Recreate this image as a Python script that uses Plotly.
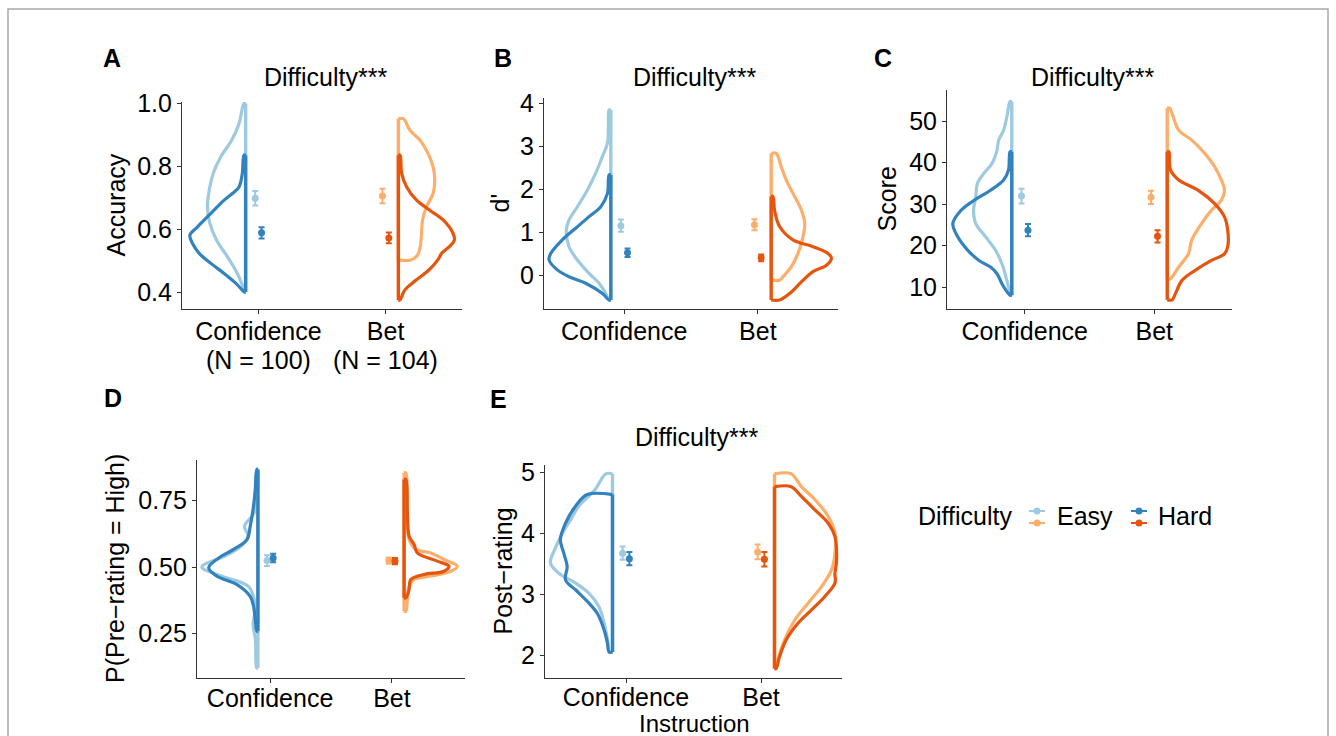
import plotly.graph_objects as go

# ---------------- data ----------------
categories = ["Confidence", "Bet"]
difficulty = ["Easy", "Hard"]

# half-violin outlines: y values and half-widths (x units)
A_conf_easy_y = [0.999, 0.935, 0.883, 0.830, 0.777, 0.724, 0.672, 0.618, 0.565, 0.512, 0.459, 0.417, 0.400]
A_conf_easy_w = [0.013, 0.052, 0.109, 0.195, 0.255, 0.286, 0.300, 0.281, 0.229, 0.143, 0.065, 0.021, 0.005]
A_conf_hard_y = [0.835, 0.777, 0.734, 0.713, 0.692, 0.650, 0.607, 0.581, 0.554, 0.523, 0.491, 0.459, 0.428, 0.406, 0.400]
A_conf_hard_w = [0.013, 0.026, 0.052, 0.104, 0.169, 0.273, 0.378, 0.438, 0.417, 0.365, 0.273, 0.169, 0.078, 0.026, 0.010]
A_bet_easy_y = [0.951, 0.914, 0.883, 0.840, 0.798, 0.756, 0.713, 0.671, 0.629, 0.586, 0.544, 0.517, 0.502]
A_bet_easy_w = [0.039, 0.091, 0.169, 0.234, 0.273, 0.286, 0.273, 0.221, 0.190, 0.182, 0.172, 0.150, 0.100]
A_bet_hard_y = [0.835, 0.777, 0.734, 0.692, 0.660, 0.629, 0.586, 0.565, 0.544, 0.523, 0.502, 0.470, 0.438, 0.406, 0.375]
A_bet_hard_w = [0.013, 0.026, 0.065, 0.143, 0.247, 0.352, 0.430, 0.440, 0.400, 0.340, 0.310, 0.240, 0.140, 0.050, 0.013]

B_conf_easy_y = [3.84, 3.46, 3.07, 2.76, 2.37, 1.98, 1.59, 1.28, 1.05, 0.66, 0.35, 0.04, -0.19, -0.43, -0.58]
B_conf_easy_w = [0.013, 0.018, 0.025, 0.063, 0.113, 0.175, 0.250, 0.313, 0.333, 0.313, 0.250, 0.163, 0.088, 0.038, 0.013]
B_conf_hard_y = [2.33, 1.90, 1.59, 1.36, 1.09, 0.82, 0.50, 0.35, 0.12, -0.04, -0.19, -0.43, -0.58]
B_conf_hard_w = [0.013, 0.025, 0.075, 0.163, 0.263, 0.363, 0.450, 0.462, 0.400, 0.313, 0.188, 0.063, 0.013]
B_bet_easy_y = [2.83, 2.52, 2.21, 1.90, 1.51, 1.20, 0.89, 0.50, 0.19, -0.04, -0.12]
B_bet_easy_w = [0.038, 0.075, 0.113, 0.163, 0.226, 0.251, 0.238, 0.200, 0.150, 0.088, 0.063]
B_bet_hard_y = [1.83, 1.51, 1.13, 0.82, 0.66, 0.50, 0.39, 0.23, 0.08, -0.16, -0.43, -0.58]
B_bet_hard_w = [0.013, 0.025, 0.063, 0.163, 0.313, 0.426, 0.451, 0.414, 0.313, 0.226, 0.138, 0.063]

C_conf_easy_y = [54.7, 51.0, 47.8, 45.4, 43.0, 39.8, 37.4, 35.0, 31.7, 28.5, 25.3, 22.1, 18.9, 15.6, 11.6, 8.4, 8.0]
C_conf_easy_w = [0.013, 0.038, 0.063, 0.101, 0.114, 0.152, 0.215, 0.265, 0.278, 0.295, 0.278, 0.202, 0.126, 0.076, 0.038, 0.013, 0.010]
C_conf_hard_y = [42.6, 38.2, 35.8, 33.3, 30.9, 28.5, 25.3, 22.1, 18.9, 16.4, 14.8, 13.2, 10.8, 8.4, 8.0]
C_conf_hard_w = [0.013, 0.025, 0.063, 0.164, 0.290, 0.391, 0.455, 0.417, 0.341, 0.253, 0.164, 0.114, 0.076, 0.025, 0.010]
C_bet_easy_y = [53.1, 47.8, 45.4, 42.2, 39.0, 35.8, 33.3, 30.9, 28.5, 25.3, 21.3, 18.0, 14.8, 12.4, 12.0]
C_bet_easy_w = [0.018, 0.088, 0.189, 0.290, 0.366, 0.417, 0.442, 0.417, 0.341, 0.265, 0.189, 0.164, 0.088, 0.038, 0.025]
C_bet_hard_y = [42.6, 38.2, 35.8, 33.3, 30.1, 26.9, 23.7, 19.7, 18.0, 16.4, 14.0, 11.6, 8.4, 6.9]
C_bet_hard_w = [0.013, 0.025, 0.088, 0.240, 0.366, 0.442, 0.467, 0.467, 0.442, 0.341, 0.215, 0.114, 0.063, 0.038]

D_conf_easy_y = [0.860, 0.766, 0.704, 0.653, 0.616, 0.578, 0.541, 0.500, 0.466, 0.428, 0.378, 0.328, 0.284, 0.227, 0.121]
D_conf_easy_w = [0.010, 0.015, 0.030, 0.110, 0.080, 0.140, 0.270, 0.460, 0.300, 0.080, 0.030, 0.025, 0.040, 0.020, 0.010]
D_conf_hard_y = [0.867, 0.791, 0.729, 0.653, 0.603, 0.566, 0.534, 0.497, 0.466, 0.434, 0.390, 0.353, 0.303, 0.259]
D_conf_hard_w = [0.008, 0.022, 0.036, 0.063, 0.090, 0.200, 0.322, 0.404, 0.339, 0.172, 0.063, 0.036, 0.022, 0.008]
D_bet_easy_y = [0.854, 0.704, 0.603, 0.566, 0.553, 0.528, 0.503, 0.484, 0.466, 0.453, 0.428, 0.378, 0.334]
D_bet_easy_w = [0.014, 0.027, 0.041, 0.096, 0.219, 0.328, 0.437, 0.383, 0.219, 0.082, 0.041, 0.027, 0.014]
D_bet_hard_y = [0.829, 0.704, 0.616, 0.585, 0.553, 0.522, 0.503, 0.484, 0.472, 0.453, 0.415, 0.384]
D_bet_hard_w = [0.014, 0.027, 0.041, 0.082, 0.109, 0.273, 0.369, 0.328, 0.164, 0.055, 0.041, 0.014]

E_conf_easy_y = [4.97, 4.71, 4.44, 4.22, 4.00, 3.72, 3.51, 3.34, 3.18, 3.01, 2.79, 2.52, 2.25, 2.05]
E_conf_easy_w = [0.050, 0.130, 0.250, 0.310, 0.370, 0.430, 0.460, 0.398, 0.274, 0.174, 0.100, 0.062, 0.037, 0.025]
E_conf_hard_y = [4.63, 4.44, 4.16, 3.89, 3.67, 3.45, 3.23, 3.07, 2.85, 2.68, 2.41, 2.19, 2.05]
E_conf_hard_w = [0.187, 0.274, 0.348, 0.386, 0.361, 0.336, 0.348, 0.274, 0.174, 0.112, 0.062, 0.037, 0.025]
E_bet_easy_y = [4.97, 4.76, 4.55, 4.27, 4.00, 3.67, 3.40, 3.12, 2.85, 2.57, 2.25, 1.92, 1.78]
E_bet_easy_w = [0.124, 0.199, 0.299, 0.398, 0.448, 0.448, 0.423, 0.348, 0.249, 0.149, 0.075, 0.025, 0.012]
E_bet_hard_y = [4.76, 4.60, 4.38, 4.16, 3.94, 3.56, 3.34, 3.18, 2.96, 2.74, 2.52, 2.25, 1.97, 1.78]
E_bet_hard_w = [0.124, 0.199, 0.299, 0.398, 0.448, 0.460, 0.448, 0.448, 0.373, 0.274, 0.174, 0.087, 0.037, 0.012]

# means and standard errors: [Confidence-Easy, Confidence-Hard, Bet-Easy, Bet-Hard]
A_mean = [0.698, 0.588, 0.705, 0.572]
A_err = [0.023, 0.018, 0.023, 0.017]
B_mean = [1.15, 0.52, 1.17, 0.40]
B_err = [0.14, 0.10, 0.13, 0.08]
C_mean = [31.9, 23.7, 31.6, 22.2]
C_err = [1.8, 1.5, 1.6, 1.5]
D_mean = [0.524, 0.534, 0.524, 0.522]
D_err = [0.020, 0.016, 0.012, 0.012]
E_mean = [3.67, 3.58, 3.69, 3.57]
E_err = [0.11, 0.11, 0.12, 0.12]

# tick labels
A_yticks = [0.4, 0.6, 0.8, 1.0]
A_yticktext = ["0.4", "0.6", "0.8", "1.0"]
B_yticks = [0, 1, 2, 3, 4]
B_yticktext = ["0", "1", "2", "3", "4"]
C_yticks = [10, 20, 30, 40, 50]
C_yticktext = ["10", "20", "30", "40", "50"]
D_yticks = [0.25, 0.50, 0.75]
D_yticktext = ["0.25", "0.50", "0.75"]
E_yticks = [2, 3, 4, 5]
E_yticktext = ["2", "3", "4", "5"]
A_sample_sizes = ["(N = 100)", "(N = 104)"]

# ---------------- styling ----------------
W, H = 1336, 736
FONT = "Liberation Sans, Arial, Helvetica, sans-serif"
FS = 25
COL = {("Confidence", "Easy"): "#9ECAE1", ("Confidence", "Hard"): "#3182BD",
       ("Bet", "Easy"): "#FDAE6B", ("Bet", "Hard"): "#E6550D"}
NUDGE = 0.1
DODGE = 0.025
AXC = "#333333"


def px_x(p):
    return p / W


def px_y(p):
    return 1 - p / H


panels = [
    dict(key="A", dom_x=(182, 462), dom_y=(102, 309), yr=(0.346, 1.004),
         yt=(A_yticks, A_yticktext), ytitle="Accuracy", ytitle_x=115,
         title=True, letter=(112, 58), standoff=-4,
         v=[(A_conf_easy_y, A_conf_easy_w), (A_conf_hard_y, A_conf_hard_w),
            (A_bet_easy_y, A_bet_easy_w), (A_bet_hard_y, A_bet_hard_w)],
         m=A_mean, e=A_err),
    dict(key="B", dom_x=(544, 838), dom_y=(98, 309), yr=(-0.79, 4.12),
         yt=(B_yticks, B_yticktext), ytitle="d'", ytitle_x=499,
         title=True, letter=(503, 58), standoff=-4,
         v=[(B_conf_easy_y, B_conf_easy_w), (B_conf_hard_y, B_conf_hard_w),
            (B_bet_easy_y, B_bet_easy_w), (B_bet_hard_y, B_bet_hard_w)],
         m=B_mean, e=B_err),
    dict(key="C", dom_x=(947, 1232), dom_y=(90, 309), yr=(4.70, 57.47),
         yt=(C_yticks, C_yticktext), ytitle="Score", ytitle_x=886,
         title=True, letter=(883, 58), standoff=-4,
         v=[(C_conf_easy_y, C_conf_easy_w), (C_conf_hard_y, C_conf_hard_w),
            (C_bet_easy_y, C_bet_easy_w), (C_bet_hard_y, C_bet_hard_w)],
         m=C_mean, e=C_err),
    dict(key="D", dom_x=(197, 465), dom_y=(460, 678), yr=(0.083, 0.902),
         yt=(D_yticks, D_yticktext), ytitle="P(Pre\u2212rating = High)", ytitle_x=115,
         title=False, letter=(113, 398), standoff=-6,
         v=[(D_conf_easy_y, D_conf_easy_w), (D_conf_hard_y, D_conf_hard_w),
            (D_bet_easy_y, D_bet_easy_w), (D_bet_hard_y, D_bet_hard_w)],
         m=D_mean, e=D_err),
    dict(key="E", dom_x=(545, 842), dom_y=(465, 678), yr=(1.623, 5.115),
         yt=(E_yticks, E_yticktext), ytitle="Post\u2212rating", ytitle_x=502,
         title=True, letter=(498, 399), standoff=-7,
         v=[(E_conf_easy_y, E_conf_easy_w), (E_conf_hard_y, E_conf_hard_w),
            (E_bet_easy_y, E_bet_easy_w), (E_bet_hard_y, E_bet_hard_w)],
         m=E_mean, e=E_err),
]

fig = go.Figure()
annotations = []
shapes = []
layout_axes = {}

for i, p in enumerate(panels):
    n = "" if i == 0 else str(i + 1)
    xref, yref = "x" + n, "y" + n
    combos = [("Confidence", "Easy"), ("Confidence", "Hard"), ("Bet", "Easy"), ("Bet", "Hard")]
    # violins
    for (cat, diff), (ys, ws) in zip(combos, p["v"]):
        cpos = categories.index(cat) + 1
        side = -1 if cat == "Confidence" else 1
        center = cpos + side * NUDGE
        xs = [center] + [center + side * w for w in ws] + [center]
        yy = [ys[0]] + list(ys) + [ys[-1]]
        color = COL[(cat, diff)]
        fig.add_trace(go.Scatter(x=xs, y=yy, mode="lines", xaxis=xref, yaxis=yref,
                                 line=dict(color=color, width=3.2, shape="spline", smoothing=1.0),
                                 hoverinfo="skip", showlegend=False))
        fig.add_trace(go.Scatter(x=[center, center], y=[min(ys), max(ys)], mode="lines",
                                 xaxis=xref, yaxis=yref,
                                 line=dict(color=color, width=3.4),
                                 hoverinfo="skip", showlegend=False))
    # point ranges
    for (cat, diff), mv, ev in zip(combos, p["m"], p["e"]):
        cpos = categories.index(cat) + 1
        off = -DODGE if diff == "Easy" else DODGE
        color = COL[(cat, diff)]
        fig.add_trace(go.Scatter(x=[cpos + off], y=[mv], mode="markers", xaxis=xref, yaxis=yref,
                                 marker=dict(color=color, size=7),
                                 error_y=dict(type="data", array=[ev], color=color, thickness=2, width=3),
                                 showlegend=False))
    common = dict(showline=True, linecolor=AXC, linewidth=1.1, ticks="outside", ticklen=4,
                  tickcolor=AXC, showgrid=False, zeroline=False, automargin=False,
                  tickfont=dict(family=FONT, size=FS, color="black"), fixedrange=True)
    layout_axes["xaxis" + n] = dict(
        domain=[px_x(p["dom_x"][0]), px_x(p["dom_x"][1])], anchor=yref,
        range=[0.4, 2.6], tickvals=[1, 2], ticktext=categories,
        ticklabelstandoff=p["standoff"], **common)
    layout_axes["yaxis" + n] = dict(
        domain=[px_y(p["dom_y"][1]), px_y(p["dom_y"][0])], anchor=xref,
        range=list(p["yr"]), tickvals=p["yt"][0], ticktext=p["yt"][1], **common)
    # y title
    annotations.append(dict(text=p["ytitle"], xref="paper", yref="paper",
                            x=px_x(p["ytitle_x"]), y=px_y((p["dom_y"][0] + p["dom_y"][1]) / 2),
                            textangle=-90, showarrow=False, xanchor="center", yanchor="middle",
                            font=dict(family=FONT, size=FS, color="black")))
    # panel title
    if p["title"]:
        ty = 77 if p["dom_y"][1] < 400 else 437
        annotations.append(dict(text="Difficulty***", xref="paper", yref="paper",
                                x=px_x((p["dom_x"][0] + p["dom_x"][1]) / 2 + 3), y=px_y(ty),
                                showarrow=False, xanchor="center", yanchor="middle",
                                font=dict(family=FONT, size=FS, color="black")))
    # panel letter
    annotations.append(dict(text="<b>%s</b>" % p["key"], xref="paper", yref="paper",
                            x=px_x(p["letter"][0]), y=px_y(p["letter"][1]),
                            showarrow=False, xanchor="center", yanchor="middle",
                            font=dict(family=FONT, size=25, color="black")))

# sample-size second line under panel A's categories
for k, txt in enumerate(A_sample_sizes):
    annotations.append(dict(text=txt, xref="x", yref="paper", x=k + 1, y=px_y(360),
                            showarrow=False, xanchor="center", yanchor="middle",
                            font=dict(family=FONT, size=FS, color="black")))

# x-axis title for panel E
annotations.append(dict(text="Instruction", xref="paper", yref="paper", x=px_x(694), y=px_y(723),
                        showarrow=False, xanchor="center", yanchor="middle",
                        font=dict(family=FONT, size=24, color="black")))

# legend (drawn manually)
annotations.append(dict(text="Difficulty", xref="paper", yref="paper", x=px_x(916), y=px_y(516),
                        showarrow=False, xanchor="left", yanchor="middle",
                        font=dict(family=FONT, size=FS, color="black")))
for d, tx, kx in [("Easy", 1055, 1037), ("Hard", 1156, 1139)]:
    annotations.append(dict(text=d, xref="paper", yref="paper", x=px_x(tx), y=px_y(516),
                            showarrow=False, xanchor="left", yanchor="middle",
                            font=dict(family=FONT, size=FS, color="black")))
    for cat, ky in [("Confidence", 511), ("Bet", 523)]:
        c = COL[(cat, d)]
        shapes.append(dict(type="line", xref="paper", yref="paper",
                           x0=px_x(kx - 8), x1=px_x(kx + 8), y0=px_y(ky), y1=px_y(ky),
                           line=dict(color=c, width=2)))
        shapes.append(dict(type="circle", xref="paper", yref="paper",
                           x0=px_x(kx - 3.5), x1=px_x(kx + 3.5), y0=px_y(ky + 3.5), y1=px_y(ky - 3.5),
                           fillcolor=c, line=dict(color=c, width=0)))

# figure frame
shapes.append(dict(type="rect", xref="paper", yref="paper", x0=px_x(8), x1=px_x(1328),
                   y0=px_y(745), y1=px_y(9), line=dict(color="#a8a8a8", width=1.5)))

fig.update_layout(width=W, height=H, margin=dict(l=0, r=0, t=0, b=0, autoexpand=False),
                  paper_bgcolor="white", plot_bgcolor="white", showlegend=False,
                  annotations=annotations, shapes=shapes,
                  font=dict(family=FONT, size=FS, color="black"), **layout_axes)

fig.write_html("out.html", config={"displayModeBar": False},
               post_script="document.body.style.margin='0';document.body.style.overflow='hidden';")
